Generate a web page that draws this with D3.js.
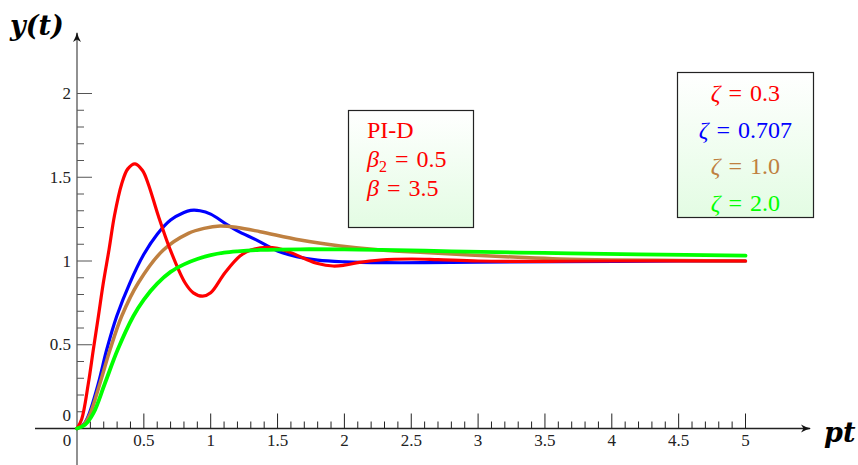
<!DOCTYPE html>
<html>
<head>
<meta charset="utf-8">
<script src="https://cdn.jsdelivr.net/npm/d3@7"></script>
<style>
  html, body { margin: 0; padding: 0; background: #fff; }
  svg { display: block; }
</style>
</head>
<body>
<svg id="chart" width="858" height="465"></svg>
<script>
// ---- data ----
const redT   = [0,0.035,0.085,0.122,0.16,0.197,0.24,0.28,0.334,0.38,0.434,0.49,0.533,0.608,0.696,0.808,0.87,0.94,1.0,1.107,1.219,1.3,1.42,1.5,1.6,1.7,1.8,1.915,2.0,2.1,2.27,2.5,2.7,3.0,3.5,4.0,5.0];
const redY   = [0,0.055,0.27,0.47,0.67,0.87,1.07,1.27,1.46,1.55,1.58,1.54,1.46,1.27,1.07,0.87,0.81,0.79,0.81,0.93,1.03,1.065,1.082,1.075,1.05,1.015,0.985,0.97,0.975,0.99,1.006,1.012,1.008,1.0,0.998,1.0,1.0];

const blueT  = [0,0.05,0.085,0.16,0.222,0.297,0.396,0.5,0.6,0.7,0.8,0.85,0.92,1.0,1.107,1.2,1.344,1.5,1.643,1.8,2.0,2.3,2.6,3.0,3.6,4.5,5.0];
const blueY  = [0,0.026,0.076,0.27,0.47,0.67,0.87,1.04,1.16,1.245,1.29,1.302,1.30,1.28,1.225,1.18,1.125,1.06,1.026,1.005,0.995,0.99,0.99,0.993,0.996,1.0,1.0];

const brownT = [0,0.05,0.097,0.172,0.247,0.334,0.459,0.646,0.833,0.95,1.07,1.2,1.37,1.67,1.97,2.27,2.6,2.94,3.3,3.61,4.0,4.5,5.0];
const brownY = [0,0.023,0.085,0.27,0.47,0.67,0.87,1.066,1.165,1.195,1.209,1.20,1.175,1.125,1.09,1.066,1.05,1.036,1.022,1.012,1.006,1.003,1.0];

const greenT = [0,0.06,0.122,0.209,0.304,0.421,0.5,0.6,0.7,0.8,0.9,1.0,1.1,1.2,1.37,1.67,2.0,2.27,2.8,3.3,3.69,4.2,5.0];
const greenY = [0,0.022,0.09,0.27,0.47,0.67,0.77,0.865,0.935,0.98,1.012,1.035,1.05,1.058,1.066,1.07,1.069,1.066,1.058,1.05,1.046,1.04,1.032];

const xTickLabels = ["0.5","1","1.5","2","2.5","3","3.5","4","4.5","5"];
const yTickLabels = ["0.5","1","1.5","2"];
const zetaLabels  = ["0.3","0.707","1.0","2.0"];
const seriesColors = ["#ff0000","#0000ff","#bf8040","#00ff00"];

// ---- layout ----
const svg = d3.select("#chart");
const x = d3.scaleLinear().domain([0,5]).range([77,745.5]);
const y = d3.scaleLinear().domain([0,2]).range([428.5,93.5]);
const serif = "'Liberation Serif','DejaVu Serif',serif";
const titleFont = "'DejaVu Serif','Liberation Serif',serif";
const EQ = "\u2004=\u2004";

// gradient for boxes
const defs = svg.append("defs");
const grad = defs.append("linearGradient").attr("id","boxgrad")
  .attr("x1",0).attr("y1",0).attr("x2",0).attr("y2",1);
grad.append("stop").attr("offset","0%").attr("stop-color","#ffffff");
grad.append("stop").attr("offset","100%").attr("stop-color","#e3fce3");
const mk = defs.append("marker").attr("id","arrow").attr("viewBox","0 0 10 10")
  .attr("refX",9).attr("refY",5).attr("markerWidth",10).attr("markerHeight",10)
  .attr("markerUnits","userSpaceOnUse").attr("orient","auto");
mk.append("path").attr("d","M0,1 Q5,4 10,5 Q5,6 0,9 L2.5,5 Z").attr("fill","#111");

// axes lines
svg.append("line").attr("x1",35).attr("x2",810).attr("y1",y(0)).attr("y2",y(0))
  .attr("stroke","#222").attr("stroke-width",1.3).attr("marker-end","url(#arrow)");
svg.append("line").attr("x1",x(0)).attr("x2",x(0)).attr("y1",465).attr("y2",33)
  .attr("stroke","#555").attr("stroke-width",1.3).attr("marker-end","url(#arrow)");

// x ticks
const xMinor = d3.range(1,51).map(i => i/10);
svg.append("g").selectAll("line").data(xMinor).join("line")
  .attr("x1", d => x(d)).attr("x2", d => x(d))
  .attr("y1", y(0)).attr("y2", (d,i) => (i+1)%5===0 ? y(0)-15 : y(0)-7)
  .attr("stroke","#222").attr("stroke-width",1);
svg.append("g").selectAll("text").data(xTickLabels).join("text")
  .attr("x", d => x(+d)).attr("y", 446)
  .attr("text-anchor","middle").attr("font-family",serif).attr("font-size",17)
  .attr("fill","#222").text(d => d);
svg.append("text").attr("x",67).attr("y",446).attr("text-anchor","middle")
  .attr("font-family",serif).attr("font-size",17).attr("fill","#222").text("0");

// y ticks
const yMinor = d3.range(1,21).map(i => i/10);
svg.append("g").selectAll("line").data(yMinor).join("line")
  .attr("x1", x(0)).attr("x2", (d,i) => (i+1)%5===0 ? x(0)+15 : x(0)+7)
  .attr("y1", d => y(d)).attr("y2", d => y(d))
  .attr("stroke","#555").attr("stroke-width",1);
svg.append("g").selectAll("text").data(yTickLabels).join("text")
  .attr("x", 71).attr("y", d => y(+d)+5.5)
  .attr("text-anchor","end").attr("font-family",serif).attr("font-size",17)
  .attr("fill","#222").text(d => d);
svg.append("text").attr("x",71).attr("y",421).attr("text-anchor","end")
  .attr("font-family",serif).attr("font-size",17).attr("fill","#222").text("0");

// axis titles
svg.append("text").attr("x",10).attr("y",35).attr("font-family",titleFont)
  .attr("font-size",27).attr("font-weight","bold").attr("font-style","italic")
  .attr("fill","#000").text("y(t)");
svg.append("text").attr("x",824).attr("y",442).attr("font-family",titleFont)
  .attr("font-size",27).attr("font-weight","bold").attr("font-style","italic")
  .attr("fill","#000").text("pt");

// curves
const series = [
  {t: blueT,  v: blueY,  c: seriesColors[1], w: 3.2},
  {t: brownT, v: brownY, c: seriesColors[2], w: 3.5},
  {t: redT,   v: redY,   c: seriesColors[0], w: 3.2},
  {t: greenT, v: greenY, c: seriesColors[3], w: 3.8}
];
const line = d3.line().x(d => x(d[0])).y(d => y(d[1])).curve(d3.curveCatmullRom.alpha(0.5));
svg.append("g").selectAll("path").data(series).join("path")
  .attr("d", s => line(s.t.map((t,i) => [t, s.v[i]])))
  .attr("fill","none").attr("stroke", s => s.c).attr("stroke-width", s => s.w)
  .attr("stroke-linejoin","round").attr("stroke-linecap","round");

// PI-D box
svg.append("rect").attr("x",348.5).attr("y",110.5).attr("width",125).attr("height",117)
  .attr("fill","url(#boxgrad)").attr("stroke","#222").attr("stroke-width",1.2);
const pid = svg.append("g").attr("font-family",serif).attr("font-size",24).attr("fill","#ff0000");
pid.append("text").attr("x",367).attr("y",138).text("PI-D");
const b2 = pid.append("text").attr("x",367).attr("y",167);
b2.append("tspan").attr("font-style","italic").text("β");
b2.append("tspan").attr("font-size",16).attr("dy",5).text("2");
b2.append("tspan").attr("dy",-5).text(EQ + "0.5");
const b1 = pid.append("text").attr("x",367).attr("y",196);
b1.append("tspan").attr("font-style","italic").text("β");
b1.append("tspan").text(EQ + "3.5");

// zeta box
svg.append("rect").attr("x",677.5).attr("y",72.5).attr("width",136).attr("height",145)
  .attr("fill","url(#boxgrad)").attr("stroke","#222").attr("stroke-width",1.2);
const zg = svg.append("g").attr("font-family",serif).attr("font-size",24);
zetaLabels.forEach((lab,i) => {
  const t = zg.append("text").attr("x",745.5).attr("y",101 + i*36.5)
    .attr("text-anchor","middle").attr("fill",seriesColors[i]);
  t.append("tspan").attr("font-style","italic").text("ζ");
  t.append("tspan").text(EQ + lab);
});
</script>
</body>
</html>
